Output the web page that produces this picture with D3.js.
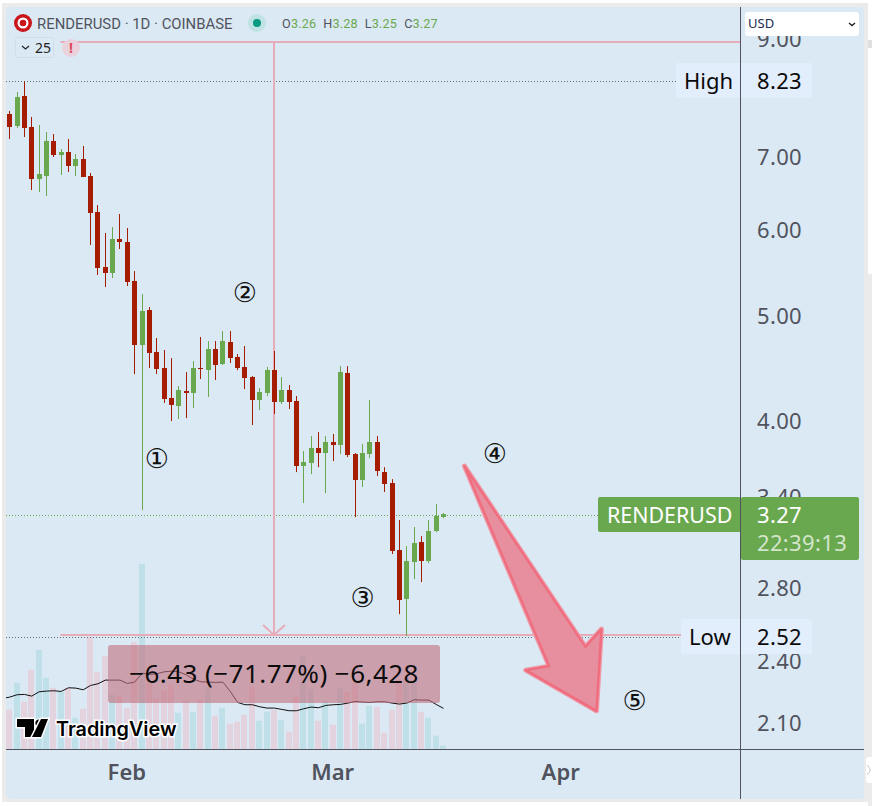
<!DOCTYPE html>
<html><head><meta charset="utf-8">
<style>
html,body{margin:0;padding:0;background:#fff}
svg{display:block}
text{font-family:"Noto Sans",sans-serif}
</style>
<script src="https://cdn.jsdelivr.net/npm/d3@7"></script></head>
<body><svg id="c" width="872" height="806"></svg>
<script>
const open=[7.671,7.477,7.97,7.461,6.68,6.723,7.242,7.03,7.075,6.867,6.97,6.723,6.227,5.539,5.469,5.879,5.842,5.377,4.692,5.055,4.623,4.468,4.192,4.121,4.255,4.237,4.468,4.449,4.652,4.506,4.722,4.574,4.478,4.383,4.174,4.237,4.449,4.156,4.264,4.165,3.627,3.65,3.769,3.729,3.817,3.793,4.421,3.721,3.521,3.721,3.817,3.581,3.498,3.034,2.733,2.957,3.086,2.963,3.159,3.254];
const high=[7.72,8.038,8.223,7.622,7.493,7.382,7.351,7.12,7.273,7.045,7.166,6.766,6.32,5.955,6.031,6.201,6.019,5.492,5.23,5.087,4.763,4.643,4.564,4.3,4.43,4.535,4.773,4.732,4.732,4.834,4.834,4.603,4.682,4.393,4.282,4.478,4.633,4.383,4.309,4.21,3.745,3.866,3.899,3.866,3.883,4.487,4.487,3.729,3.801,4.174,3.866,3.619,3.528,3.234,3.059,3.186,3.125,3.234,3.345,3.282];
const low=[7.273,7.446,7.304,6.525,6.498,6.443,7,6.737,6.78,6.723,6.708,5.805,5.446,5.309,5.411,5.756,5.32,4.411,3.303,4.468,4.411,4.148,3.992,4.009,4.017,4.104,4.365,4.201,4.356,4.497,4.516,4.449,4.273,3.958,4.086,4.21,4.052,4.139,4.095,3.581,3.353,3.566,3.619,3.425,3.666,3.721,3.697,3.254,3.469,3.689,3.551,3.432,3.008,2.647,2.526,2.852,2.834,2.951,3.152,3.247];
const close=[7.461,7.953,7.446,6.68,6.751,7.242,7.03,7.075,6.867,6.97,6.708,6.214,5.528,5.469,5.879,5.842,5.365,4.692,5.044,4.613,4.459,4.183,4.13,4.264,4.237,4.468,4.459,4.652,4.497,4.732,4.564,4.468,4.374,4.174,4.246,4.449,4.156,4.264,4.156,3.627,3.658,3.769,3.729,3.817,3.793,4.43,3.713,3.521,3.729,3.817,3.589,3.491,3.027,2.727,2.963,3.079,2.963,3.159,3.261,3.275];
const volume=[118,199,142,238,298,214,184,172,184,94,121,336,232,280,163,160,124,322,556,198,151,175,193,109,145,112,148,186,100,124,76,82,103,187,85,112,118,88,52,157,280,181,85,145,73,184,172,198,76,130,127,49,118,208,213,208,112,94,40,10];
const volumeMAStart=152;
const volumeMA=[156,163,164,159,172,174,175,173,184,183,178,191,196,207,207,207,197,201,228,224,226,232,234,232,223,210,202,201,200,201,173,140,133,133,127,123,123,119,115,115,121,126,124,131,133,134,138,143,141,140,142,142,138,135,138,148,147,147,134,122];
const priceTicks=[9,7,6,5,4,3.4,2.8,2.4,2.1];
const monthIndex=[16,44,75];
const monthLabels=["Feb","Mar","Apr"];
const measureTop=8.94, measureBottom=2.532, measureStart=6.9, measureMid=36;
const measureText="\u22126.43 (\u221271.77%) \u22126,428";
const highValue=8.23, lowValue=2.52, lastValue=3.27;
const arrowIdx=[61.85,78.3,80.48,79.8,70.19,73.36];
const arrowPrice=[3.627,2.469,2.564,2.155,2.35,2.37];
const waveLabels=["①","②","③","④","⑤"];
const waveIdx=[20,32,48,66,85];
const wavePrice=[3.682,5.241,2.739,3.721,2.2];

const C={bg:"#dbe9f4",red:"#a61c00",green:"#6aa84f",grey:"#50535e",pink:"#e8acb9",lab:"#e3eefc",frame:"#ebebeb"};
const svg=d3.select("#c");
const x=d3.scaleLinear().domain([0,59]).range([9.7,443.5]);
const y=d3.scaleLog().domain([2.1,7]).range([723,157]);
const v=d3.scaleLinear().domain([0,556]).range([749,564]);
const px=i=>Math.floor(x(i));

// frame
svg.append("rect").attr("x",2).attr("y",3).attr("width",866).attr("height",799).attr("fill",C.frame);
svg.append("rect").attr("x",868).attr("y",40).attr("width",4).attr("height",8).attr("fill","#e0e0e0");
svg.append("rect").attr("x",868).attr("y",274).attr("width",4).attr("height",532).attr("fill",C.frame);
svg.append("rect").attr("x",6).attr("y",7).attr("width",858).attr("height",792).attr("rx",4).attr("fill",C.bg);
svg.append("path").attr("d","M872 757h-3a3 3 0 0 0-3 3v20a3 3 0 0 0 3 3h3z").attr("fill","#fff");
svg.append("path").attr("d","M867.5 765l3 5l-3 5").attr("fill","none").attr("stroke","#c4c8cc");
svg.append("clipPath").attr("id","pane").append("rect").attr("x",6).attr("y",7).attr("width",734).attr("height",742);

// volume
const vg=svg.append("g");
vg.selectAll("rect").data(volume).join("rect")
 .attr("x",(d,i)=>px(i)-3).attr("width",6)
 .attr("y",d=>v(d)).attr("height",d=>749-v(d))
 .attr("fill",(d,i)=>close[i]>=open[i]?"#bfdfe9":"#e3d3de");
const hLine=(p,x0,x1,col)=>svg.append("line").attr("x1",x0).attr("x2",x1).attr("y1",Math.round(y(p))+.5).attr("y2",Math.round(y(p))+.5)
 .attr("stroke",col).attr("stroke-dasharray","1 2");
hLine(highValue,6,676,"#5f6b78");
hLine(lowValue,6,681,"#5f6b78");
hLine(lastValue,6,598,C.green);

// measure
const my0=Math.round(y(measureTop)), my1=Math.round(y(measureBottom));
const m=svg.append("g");
m.append("rect").attr("x",x(measureStart)).attr("y",my0-1).attr("width",680).attr("height",2).attr("fill",C.pink);
m.append("rect").attr("x",x(measureStart)).attr("y",my1-1).attr("width",680).attr("height",2).attr("fill",C.pink);
m.append("rect").attr("x",px(measureMid)-1).attr("y",my0).attr("width",2).attr("height",my1-my0).attr("fill",C.pink);
m.append("path").attr("d",d3.line()([[px(measureMid)-11,my1-10],[px(measureMid),my1],[px(measureMid)+11,my1-10]]))
 .attr("fill","none").attr("stroke",C.pink).attr("stroke-width",2);

// candles
const cg=svg.append("g");
open.forEach((o,i)=>{
 const col=close[i]>=o?C.green:C.red;
 const a=Math.round(y(Math.max(o,close[i]))),b=Math.round(y(Math.min(o,close[i])));
 cg.append("rect").attr("x",px(i)).attr("width",1).attr("y",y(high[i])).attr("height",y(low[i])-y(high[i])).attr("fill",col);
 cg.append("rect").attr("x",px(i)-2).attr("width",5).attr("y",a).attr("height",Math.max(1,b-a)).attr("fill",col);
});

// volume MA
svg.append("path").datum([volumeMAStart].concat(volumeMA))
 .attr("clip-path","url(#pane)")
 .attr("d",d3.line().x((d,i)=>x(i-1)).y(d=>v(d)))
 .attr("fill","none").attr("stroke","#111").attr("stroke-width",1);

// measure label
svg.append("rect").attr("x",108).attr("y",645).attr("width",332).attr("height",58).attr("rx",3)
 .attr("fill","#c4717f").attr("fill-opacity",.62);
svg.append("text").attr("x",274).attr("y",683).attr("text-anchor","middle")
 .attr("font-size",26).attr("letter-spacing",.45).attr("fill","#0c0c0c").text(measureText);

// arrow
const arrowPts=arrowIdx.map((a,i)=>[x(a),y(arrowPrice[i])]);
const arrowPath=d3.line().curve(d3.curveLinearClosed)(arrowPts);
svg.append("path").attr("d",arrowPath).attr("fill","#e88f9e").attr("stroke","#ee9aa8").attr("stroke-width",5).attr("stroke-linejoin","round");
svg.append("path").attr("d",arrowPath).attr("fill","#e78f9e").attr("stroke","#ef6d7e").attr("stroke-width",2.4).attr("stroke-linejoin","round");

// wave labels
svg.append("g").selectAll("text").data(waveLabels).join("text")
 .attr("x",(d,i)=>x(waveIdx[i])).attr("y",(d,i)=>y(wavePrice[i])+9)
 .attr("text-anchor","middle").attr("font-size",27).attr("fill","#111")
 .style("font-family","'DejaVu Sans'").text(d=>d);

// frame axes
svg.append("line").attr("x1",740.5).attr("x2",740.5).attr("y1",7).attr("y2",799).attr("stroke",C.grey);
svg.append("line").attr("x1",6).attr("x2",864).attr("y1",749.5).attr("y2",749.5).attr("stroke",C.grey);

// y axis
const ya=d3.axisRight(y).tickValues(priceTicks).tickSize(0).tickPadding(0).tickFormat(d3.format(".2f"));
const yg=svg.append("g").attr("transform","translate(757,0)").call(ya);
yg.select(".domain").remove();
yg.selectAll("text").attr("font-size",22).attr("fill",C.grey).attr("letter-spacing",.35).attr("dy",".36em").style("font-family","'Noto Sans'");
// x axis
const xa=d3.axisBottom(x).tickValues(monthIndex).tickSize(0).tickPadding(0).tickFormat((d,i)=>monthLabels[i]);
const xg=svg.append("g").attr("transform","translate(-1,764)").call(xa);
xg.select(".domain").remove();
xg.selectAll("text").attr("font-size",22).attr("font-weight",600).attr("fill",C.grey).attr("dy",".71em").style("font-family","'Noto Sans'");

// high / low labels
const priceLabel=(name,val,bx)=>{
 const cy=Math.round(y(val));
 svg.append("rect").attr("x",bx).attr("y",cy-18).attr("width",812-bx).attr("height",35).attr("rx",2).attr("fill",C.lab);
 svg.append("line").attr("x1",740.5).attr("x2",740.5).attr("y1",cy-18).attr("y2",cy+17).attr("stroke",C.grey);
 svg.append("text").attr("x",bx+8).attr("y",cy+7.5).attr("font-size",22).attr("fill","#0a0a0a").text(name);
 svg.append("text").attr("x",757).attr("y",cy+8).attr("font-size",22).attr("letter-spacing",.35).attr("fill","#0a0a0a").text(val.toFixed(2));
};
priceLabel("High",highValue,676);
priceLabel("Low",lowValue,681);

// last price
const ly=Math.round(y(lastValue));
svg.append("rect").attr("x",598).attr("y",ly-18).attr("width",143).attr("height",35).attr("rx",2).attr("fill",C.green);
svg.append("rect").attr("x",741).attr("y",ly-18).attr("width",118).attr("height",63).attr("rx",2).attr("fill",C.green);
svg.append("line").attr("x1",740.5).attr("x2",740.5).attr("y1",ly-18).attr("y2",ly+45).attr("stroke",C.grey);
svg.append("text").attr("x",607).attr("y",ly+8).attr("font-size",21.4).attr("fill","#fff").text("RENDERUSD");
svg.append("text").attr("x",757).attr("y",ly+8).attr("font-size",22).attr("letter-spacing",.35).attr("fill","#fff").text(lastValue.toFixed(2));
svg.append("text").attr("x",757).attr("y",ly+36).attr("font-size",22).attr("letter-spacing",.35).attr("fill","#d3e5cb").text("22:39:13");

// currency box
svg.append("rect").attr("x",745).attr("y",12).attr("width",114).attr("height",24).attr("rx",3).attr("fill","#fff");
svg.append("text").attr("x",748).attr("y",28).attr("font-size",13).attr("fill","#1a2a50").text("USD");
svg.append("path").attr("d","M849 23l3 2.5l3-2.5").attr("fill","none").attr("stroke","#222").attr("stroke-width",1.4);

// header
svg.append("circle").attr("cx",23).attr("cy",23).attr("r",9).attr("fill","#c9151b");
svg.append("circle").attr("cx",23).attr("cy",23).attr("r",4.4).attr("fill","none").attr("stroke","#fff").attr("stroke-width",2.2);
svg.append("text").attr("x",37).attr("y",29).attr("font-size",14.9).attr("fill",C.grey).style("font-family","Roboto").text("RENDERUSD · 1D · COINBASE");
svg.append("circle").attr("cx",257).attr("cy",23).attr("r",9).attr("fill","#bfe2e4");
svg.append("circle").attr("cx",257).attr("cy",23).attr("r",4).attr("fill","#089981");
const legendNames=["O","H","L","C"],legendVals=["3.26","3.28","3.25","3.27"];
const leg=svg.append("text").attr("x",282).attr("y",28).attr("font-size",12.6).attr("letter-spacing",.2).style("font-family","Roboto");
legendNames.forEach((n,i)=>{
 leg.append("tspan").attr("fill",C.grey).attr("dx",i?7:0).text(n);
 leg.append("tspan").attr("fill",C.green).text(legendVals[i]);
});
svg.append("rect").attr("x",15.5).attr("y",37.5).attr("width",38).attr("height",20).attr("rx",2).attr("fill","none").attr("stroke","#d3dde6");
svg.append("path").attr("d","M22 46l3.5 3l3.5-3").attr("fill","none").attr("stroke","#222").attr("stroke-width",1.2);
svg.append("text").attr("x",35).attr("y",53).attr("font-size",14).attr("fill","#222").text("25");
svg.append("circle").attr("cx",71).attr("cy",48).attr("r",9).attr("fill","#e9d2dc");
svg.append("text").attr("x",71).attr("y",53).attr("text-anchor","middle").attr("font-size",14).attr("font-weight",700).attr("fill","#e0485c").text("!");

// logo
const logo=svg.append("g").attr("transform","translate(17,719)");
logo.append("path").attr("d","M0 0H17V18H8V8H0Z").attr("fill","#000").attr("stroke","#fff").attr("stroke-width",3).attr("paint-order","stroke");
logo.append("circle").attr("cx",22).attr("cy",4).attr("r",3.6).attr("fill","#000").attr("stroke","#fff").attr("stroke-width",2).attr("paint-order","stroke");
logo.append("path").attr("d","M24 0H31L24 18H15Z").attr("fill","#000").attr("stroke","#fff").attr("stroke-width",3).attr("paint-order","stroke");
svg.append("text").attr("x",56).attr("y",736).attr("font-size",19.8).attr("font-weight",600)
 .style("font-family","Inter").attr("fill","#000").attr("stroke","#fff").attr("stroke-width",3).attr("paint-order","stroke").text("TradingView");
</script></body></html>
